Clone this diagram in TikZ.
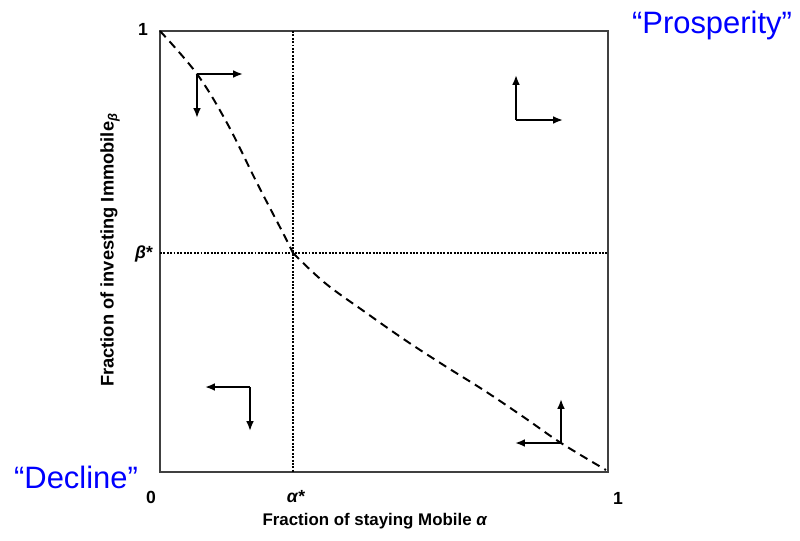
\documentclass[tikz,border=0pt]{standalone}
\usepackage{fontspec}
\setmainfont{Liberation Sans}
\usetikzlibrary{arrows.meta}

\begin{document}
\begin{tikzpicture}[
    x=0.025cm, y=-0.025cm,
    frame/.style={draw=black!75, line width=1.8pt},
    guide/.style={densely dotted, line width=1.4pt},
    saddle/.style={dash pattern=on 6pt off 4pt, line width=1.4pt},
    flow/.style={-{Latex[length=7pt,width=5.5pt]}, line width=1.3pt},
    tick/.style={font=\fontsize{12.5}{14}\selectfont\bfseries},
    axis/.style={font=\fontsize{12}{14}\selectfont\bfseries},
    regime/.style={text=blue, font=\fontsize{22}{26}\selectfont}
  ]
  \useasboundingbox (0,0) rectangle (800,540);

  \coordinate (sw) at (160,472);
  \coordinate (ne) at (608,31);
  \coordinate (eq) at (293,253);

  \draw[frame] (sw) rectangle (ne);
  \draw[guide] (eq |- ne) -- (eq |- sw);
  \draw[guide] (eq -| sw) -- (eq -| ne);

  % separatrix
  \draw[saddle] plot[smooth, tension=0.6] coordinates {
    (160,31) (197,74) (227,123) (257,183) (283,233) (293,253)};
  \draw[saddle] plot[smooth, tension=0.6] coordinates {
    (293,253) (325,283) (365,312) (405,340) (445,366) (485,391)
    (525,418) (561,443) (606,470)};

  % direction arrows
  \coordinate (tl) at (197,74);
  \coordinate (tlr) at (243,74);
  \coordinate (tld) at (197,118);
  \coordinate (tr) at (516,120);
  \coordinate (tru) at (516,75);
  \coordinate (trr) at (563,120);
  \coordinate (bl) at (250,387);
  \coordinate (bll) at (205,387);
  \coordinate (bld) at (250,431);
  \coordinate (br) at (561,443);
  \coordinate (bru) at (561,399);
  \coordinate (brl) at (515,443);

  \draw[flow] (tl) -- (tlr);
  \draw[flow] (tl) -- (tld);
  \draw[flow] (tr) -- (tru);
  \draw[flow] (tr) -- (trr);
  \draw[flow] (bl) -- (bll);
  \draw[flow] (bl) -- (bld);
  \draw[flow] (br) -- (bru);
  \draw[flow] (br) -- (brl);

  \node[tick] (oney) at (143,29) {1};
  \node[tick] (betastar) at (144,254) {\textit{β}*};
  \node[tick] (zero) at (151,497) {0};
  \node[tick] (alphastar) at (296,497) {\textit{α}*};
  \node[tick] (onex) at (618,498) {1};

  \node[axis] (xlab) at (375,521) {Fraction of staying Mobile \textit{α}};
  \node[axis, rotate=90, font=\fontsize{13}{15}\selectfont\bfseries] (ylab) at (110,250) {Fraction of investing Immobile\textsubscript{\textit{β}}};

  \node[regime] (prosp) at (712,25) {“Prosperity”};
  \node[regime] (decl) at (76,477) {“Decline”};
\end{tikzpicture}
\end{document}
